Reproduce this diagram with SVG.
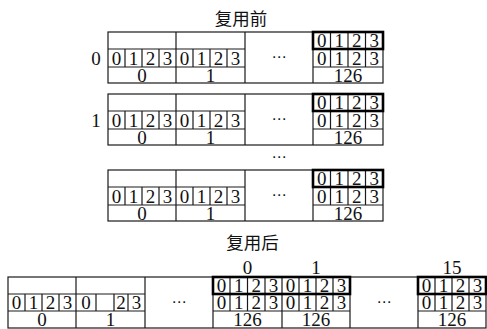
<svg xmlns="http://www.w3.org/2000/svg" width="487" height="329" viewBox="0 0 487 329">
<style>
.ln{stroke:#1a1a1a;stroke-width:1.2;fill:none}
.thk{stroke:#000;stroke-width:2.6;fill:none}
.t{font-family:"Liberation Serif","DejaVu Serif",serif;font-size:19px;text-anchor:middle;fill:#111}
.d{font-family:"DejaVu Sans",sans-serif;font-size:15px;text-anchor:middle;fill:#111}
.cjk{font-family:"Noto Sans CJK SC",sans-serif;font-size:17.5px;text-anchor:middle;fill:#111}
</style>
<rect width="487" height="329" fill="#fff"/>
<g id="title-before"><text class="cjk" x="241" y="25">复用前</text></g>

<g id="block-row0" transform="translate(0,32)">
<rect class="ln" x="108" y="0" width="275" height="51"/>
<path class="ln" d="M176 0V51M245 0V51M313 0V51M108 17H245M313 17H383M108 35H245M313 35H383M125 17V35M142 17V35M159 17V35M193 17V35M210 17V35M227 17V35M330.5 0V35M348 0V35M365.5 0V35"/>
<rect class="thk" x="313" y="0" width="70" height="17"/>
<text class="t" x="96" y="32.5">0</text>
<text class="t" x="116.5" y="32.5">0</text><text class="t" x="133.5" y="32.5">1</text><text class="t" x="150.5" y="32.5">2</text><text class="t" x="167.5" y="32.5">3</text>
<text class="t" x="184.5" y="32.5">0</text><text class="t" x="201.5" y="32.5">1</text><text class="t" x="218.5" y="32.5">2</text><text class="t" x="235.5" y="32.5">3</text>
<text class="t" x="321.75" y="15">0</text><text class="t" x="339.25" y="15">1</text><text class="t" x="356.75" y="15">2</text><text class="t" x="374.25" y="15">3</text>
<text class="t" x="321.75" y="32.5">0</text><text class="t" x="339.25" y="32.5">1</text><text class="t" x="356.75" y="32.5">2</text><text class="t" x="374.25" y="32.5">3</text>
<text class="d" x="279" y="30">⋯</text>
<text class="t" x="142" y="49.5">0</text><text class="t" x="210.5" y="49.5">1</text><text class="t" x="348" y="49.5">126</text>
</g>

<g id="block-row1" transform="translate(0,94)">
<rect class="ln" x="108" y="0" width="275" height="51"/>
<path class="ln" d="M176 0V51M245 0V51M313 0V51M108 17H245M313 17H383M108 35H245M313 35H383M125 17V35M142 17V35M159 17V35M193 17V35M210 17V35M227 17V35M330.5 0V35M348 0V35M365.5 0V35"/>
<rect class="thk" x="313" y="0" width="70" height="17"/>
<text class="t" x="96" y="32.5">1</text>
<text class="t" x="116.5" y="32.5">0</text><text class="t" x="133.5" y="32.5">1</text><text class="t" x="150.5" y="32.5">2</text><text class="t" x="167.5" y="32.5">3</text>
<text class="t" x="184.5" y="32.5">0</text><text class="t" x="201.5" y="32.5">1</text><text class="t" x="218.5" y="32.5">2</text><text class="t" x="235.5" y="32.5">3</text>
<text class="t" x="321.75" y="15">0</text><text class="t" x="339.25" y="15">1</text><text class="t" x="356.75" y="15">2</text><text class="t" x="374.25" y="15">3</text>
<text class="t" x="321.75" y="32.5">0</text><text class="t" x="339.25" y="32.5">1</text><text class="t" x="356.75" y="32.5">2</text><text class="t" x="374.25" y="32.5">3</text>
<text class="d" x="279" y="30">⋯</text>
<text class="t" x="142" y="49.5">0</text><text class="t" x="210.5" y="49.5">1</text><text class="t" x="348" y="49.5">126</text>
</g>

<g id="dots-mid"><text class="d" x="279" y="162">⋯</text></g>

<g id="block-rowN" transform="translate(0,170)">
<rect class="ln" x="108" y="0" width="275" height="51"/>
<path class="ln" d="M176 0V51M245 0V51M313 0V51M108 17H245M313 17H383M108 35H245M313 35H383M125 17V35M142 17V35M159 17V35M193 17V35M210 17V35M227 17V35M330.5 0V35M348 0V35M365.5 0V35"/>
<rect class="thk" x="313" y="0" width="70" height="17"/>
<text class="t" x="116.5" y="32.5">0</text><text class="t" x="133.5" y="32.5">1</text><text class="t" x="150.5" y="32.5">2</text><text class="t" x="167.5" y="32.5">3</text>
<text class="t" x="184.5" y="32.5">0</text><text class="t" x="201.5" y="32.5">1</text><text class="t" x="218.5" y="32.5">2</text><text class="t" x="235.5" y="32.5">3</text>
<text class="t" x="321.75" y="15">0</text><text class="t" x="339.25" y="15">1</text><text class="t" x="356.75" y="15">2</text><text class="t" x="374.25" y="15">3</text>
<text class="t" x="321.75" y="32.5">0</text><text class="t" x="339.25" y="32.5">1</text><text class="t" x="356.75" y="32.5">2</text><text class="t" x="374.25" y="32.5">3</text>
<text class="d" x="279" y="30">⋯</text>
<text class="t" x="142" y="49.5">0</text><text class="t" x="210.5" y="49.5">1</text><text class="t" x="348" y="49.5">126</text>
</g>

<g id="title-after"><text class="cjk" x="252.5" y="248.5">复用后</text></g>

<g id="block-after">
<text class="t" x="247.5" y="273.5">0</text><text class="t" x="316" y="273.5">1</text><text class="t" x="452" y="273.5">15</text>
<g transform="translate(0,277)">
<rect class="ln" x="8" y="0" width="478" height="51"/>
<path class="ln" d="M76 0V51M145 0V51M213 0V51M282 0V51M350 0V51M418 0V51M8 17H145M213 17H350M418 17H486M8 34H145M213 34H350M418 34H486M25 17V34M42 17V34M59 17V34M96 17V34M114 17V34M128 17V34M230 0V34M247.5 0V34M265 0V34M299 0V34M316 0V34M333 0V34M435 0V34M452 0V34M469 0V34"/>
<rect class="thk" x="213" y="0" width="137" height="17"/>
<rect class="thk" x="418" y="0" width="68" height="17"/>
<text class="t" x="16.5" y="32">0</text><text class="t" x="33.5" y="32">1</text><text class="t" x="50.5" y="32">2</text><text class="t" x="67.5" y="32">3</text>
<text class="t" x="86" y="32">0</text><text class="t" x="121" y="32">2</text><text class="t" x="136.5" y="32">3</text>
<text class="t" x="221.5" y="15">0</text><text class="t" x="238.75" y="15">1</text><text class="t" x="256.25" y="15">2</text><text class="t" x="273.5" y="15">3</text>
<text class="t" x="290.5" y="15">0</text><text class="t" x="307.5" y="15">1</text><text class="t" x="324.5" y="15">2</text><text class="t" x="341.5" y="15">3</text>
<text class="t" x="426.5" y="15">0</text><text class="t" x="443.5" y="15">1</text><text class="t" x="460.5" y="15">2</text><text class="t" x="477.5" y="15">3</text>
<text class="t" x="221.5" y="32">0</text><text class="t" x="238.75" y="32">1</text><text class="t" x="256.25" y="32">2</text><text class="t" x="273.5" y="32">3</text>
<text class="t" x="290.5" y="32">0</text><text class="t" x="307.5" y="32">1</text><text class="t" x="324.5" y="32">2</text><text class="t" x="341.5" y="32">3</text>
<text class="t" x="426.5" y="32">0</text><text class="t" x="443.5" y="32">1</text><text class="t" x="460.5" y="32">2</text><text class="t" x="477.5" y="32">3</text>
<text class="d" x="179" y="29.5">⋯</text><text class="d" x="384" y="29.5">⋯</text>
<text class="t" x="42" y="49">0</text><text class="t" x="110.5" y="49">1</text>
<text class="t" x="247.5" y="49">126</text><text class="t" x="316" y="49">126</text><text class="t" x="452" y="49">126</text>
</g>
</g>
</svg>
